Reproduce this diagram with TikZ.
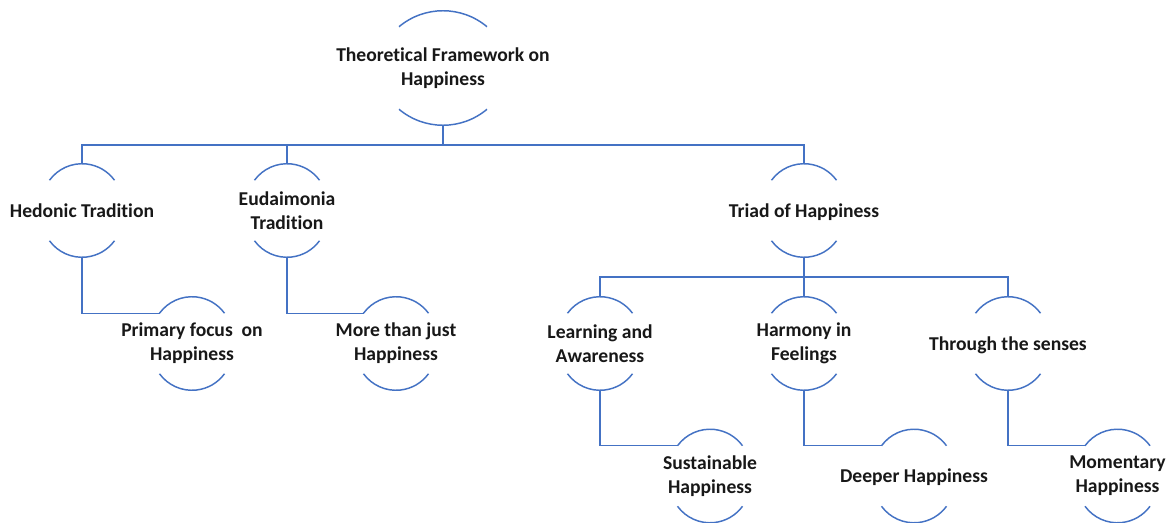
\documentclass[tikz,border=0pt]{standalone}
\usepackage{fontspec}
\setmainfont{Carlito}[Ligatures=NoCommon]
\definecolor{linkblue}{RGB}{68,114,196}
\definecolor{inkgray}{RGB}{24,24,24}

% arcs above and below a small topic; (#1-in) is the left end of the upper arc
\newcommand\capsmall[1]{%
  \draw[capline] ([shift={(-32.5,-16.5)}]#1.north) coordinate (#1-in)
    arc[start angle=143.85, end angle=36.15, radius=40.25];
  \draw[capline] ([shift={(-32.5,16.5)}]#1.south)
    arc[start angle=216.15, end angle=323.85, radius=40.25];
}

\begin{document}
\begin{tikzpicture}[x=0.75pt,y=0.75pt,
  capline/.style={draw=linkblue,line width=1.1pt},
  link/.style={draw=linkblue,line width=1.1pt},
  topic/.style={rectangle,inner sep=0pt,minimum height=69.75pt,align=center,
    text=inkgray,font=\bfseries\fontsize{14.7}{18}\selectfont},
  oneline/.style={text depth=0pt},
  roottopic/.style={topic,minimum height=85.5pt}]
\useasboundingbox[fill=white] (0,0) rectangle (1166,522);

% topics
\node[roottopic] (root) at (443,454) {Theoretical Framework on\\Happiness};
\node[topic,oneline] (hed) at (82,311.5) {Hedonic Tradition};
\node[topic] (eud) at (287,311.5) {Eudaimonia\\Tradition};
\node[topic,oneline] (tri) at (804,311.5) {Triad of Happiness};
\node[topic] (pri) at (192,178.5) {Primary focus\ \ on\\Happiness};
\node[topic] (mtj) at (396,178.5) {More than just\\Happiness};
\node[topic] (lea) at (600,178.5) {Learning and\\Awareness};
\node[topic] (har) at (804,178.5) {Harmony in\\Feelings};
\node[topic,oneline] (sen) at (1008,178.5) {Through the senses};
\node[topic] (sus) at (710,46) {Sustainable\\Happiness};
\node[topic,oneline] (dee) at (914,46) {Deeper Happiness};
\node[topic] (mom) at (1117.5,46) {Momentary\\Happiness};

% arcs of the root topic
\draw[capline] ([shift={(-44,-16)}]root.north)
  arc[start angle=129.96, end angle=50.04, radius=68.5];
\draw[capline] ([shift={(-44,16)}]root.south)
  arc[start angle=230.04, end angle=309.96, radius=68.5];

% arcs of the other topics
\foreach \t in {hed,eud,tri,pri,mtj,lea,har,sen,sus,dee,mom}{\capsmall{\t}}

% bus lines
\coordinate (busA) at (0,377);
\coordinate (busB) at (0,245);

\draw[link] (root.south) -- (root.south |- busA) -| (hed.north);
\draw[link] (root.south |- busA) -| (eud.north);
\draw[link] (root.south |- busA) -| (tri.north);

\draw[link] (tri.south) -- (tri.south |- busB) -| (lea.north);
\draw[link] (tri.south |- busB) -| (sen.north);
\draw[link] (tri.south |- busB) -- (har.north);

% elbow links to the detail topics
\draw[link] (hed.south) |- (pri-in);
\draw[link] (eud.south) |- (mtj-in);
\draw[link] (lea.south) |- (sus-in);
\draw[link] (har.south) |- (dee-in);
\draw[link] (sen.south) |- (mom-in);
\end{tikzpicture}
\end{document}
